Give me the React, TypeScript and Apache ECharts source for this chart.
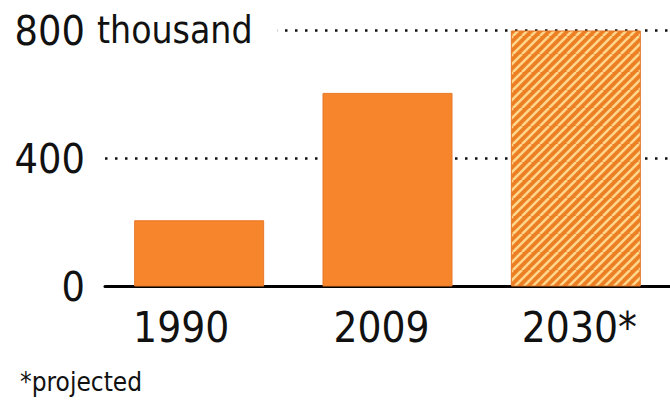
import { useEffect, useRef } from "react";
import * as echarts from "echarts";

const categories = ["1990", "2009", "2030*"];
const values = [207, 605, 800];
const projected = [false, false, true];
const yMin = 0;
const yMax = 800;
const yStep = 400;
const yUnit = "thousand";
const footnote = "*projected";

const FONT = "'DejaVu Sans Condensed', 'DejaVu Sans', sans-serif";
const INK = "#111111";
const ORANGE = "#F6852B";

function makeHatch(): HTMLCanvasElement {
  const c = document.createElement("canvas");
  c.width = 18;
  c.height = 18;
  const ctx = c.getContext("2d")!;
  ctx.fillStyle = "#EC7E24";
  ctx.fillRect(0, 0, 18, 18);
  ctx.strokeStyle = "#FFD68C";
  ctx.lineWidth = 2.6;
  for (let k = -18; k <= 54; k += 9) {
    ctx.beginPath();
    ctx.moveTo(k, 0);
    ctx.lineTo(k - 18, 18);
    ctx.stroke();
  }
  return c;
}

export default function App() {
  const ref = useRef<HTMLDivElement>(null);

  useEffect(() => {
    document.body.style.margin = "0";
    if (!ref.current) return;
    const chart = echarts.init(ref.current, undefined, { renderer: "svg" });
    const hatch = makeHatch();

    const richStyles: any = {
      a: { fontSize: 42, fontFamily: FONT, color: INK, padding: [0, 36, 0, 0] },
      b: { fontSize: 42, fontFamily: FONT, color: INK, padding: [0, 12, 0, 0] },
      c: { fontSize: 42, fontFamily: FONT, color: INK, padding: [0, 0, 0, 7] },
    };
    const richKeys = ["a", "b", "c"];

    chart.setOption({
      animation: false,
      backgroundColor: "#ffffff",
      grid: { left: 105, top: 30.5, width: 570, height: 256, containLabel: false },
      xAxis: {
        type: "category",
        data: categories,
        axisLine: { lineStyle: { color: "#000000", width: 3 } },
        axisTick: { show: false },
        axisLabel: {
          interval: 0,
          margin: 20,
          fontSize: 42,
          fontFamily: FONT,
          color: INK,
          formatter: (v: string, i: number) => `{${richKeys[i]}|${v}}`,
          rich: richStyles,
        },
      },
      yAxis: {
        type: "value",
        min: yMin,
        max: yMax,
        interval: yStep,
        offset: 8,
        name: yUnit,
        nameLocation: "end",
        nameGap: 0,
        nameTextStyle: {
          fontSize: 37,
          fontFamily: FONT,
          color: INK,
          align: "left",
          verticalAlign: "middle",
          backgroundColor: "#ffffff",
          padding: [4, 25, 1, 0],
        },
        axisLine: { show: false },
        axisTick: { show: false },
        axisLabel: {
          fontSize: 41,
          fontFamily: FONT,
          color: INK,
          margin: 12,
          align: "right",
        },
        splitLine: {
          lineStyle: { color: "#111111", width: 2.5, type: [2.5, 7.5] },
        },
      },
      series: [
        {
          type: "bar",
          barWidth: 130,
          data: values.map((v, i) => ({
            value: v,
            itemStyle: projected[i]
              ? { color: { image: hatch, repeat: "repeat" }, borderColor: "#E27626", borderWidth: 1 }
              : { color: ORANGE, borderColor: "#E8792A", borderWidth: 1 },
          })),
        },
      ],
      graphic: [
        {
          type: "text",
          left: 20,
          top: 369,
          style: { text: footnote, fontSize: 26, fontFamily: FONT, fill: INK },
        },
      ],
    });

    return () => chart.dispose();
  }, []);

  return <div ref={ref} style={{ width: 670, height: 402 }} />;
}
